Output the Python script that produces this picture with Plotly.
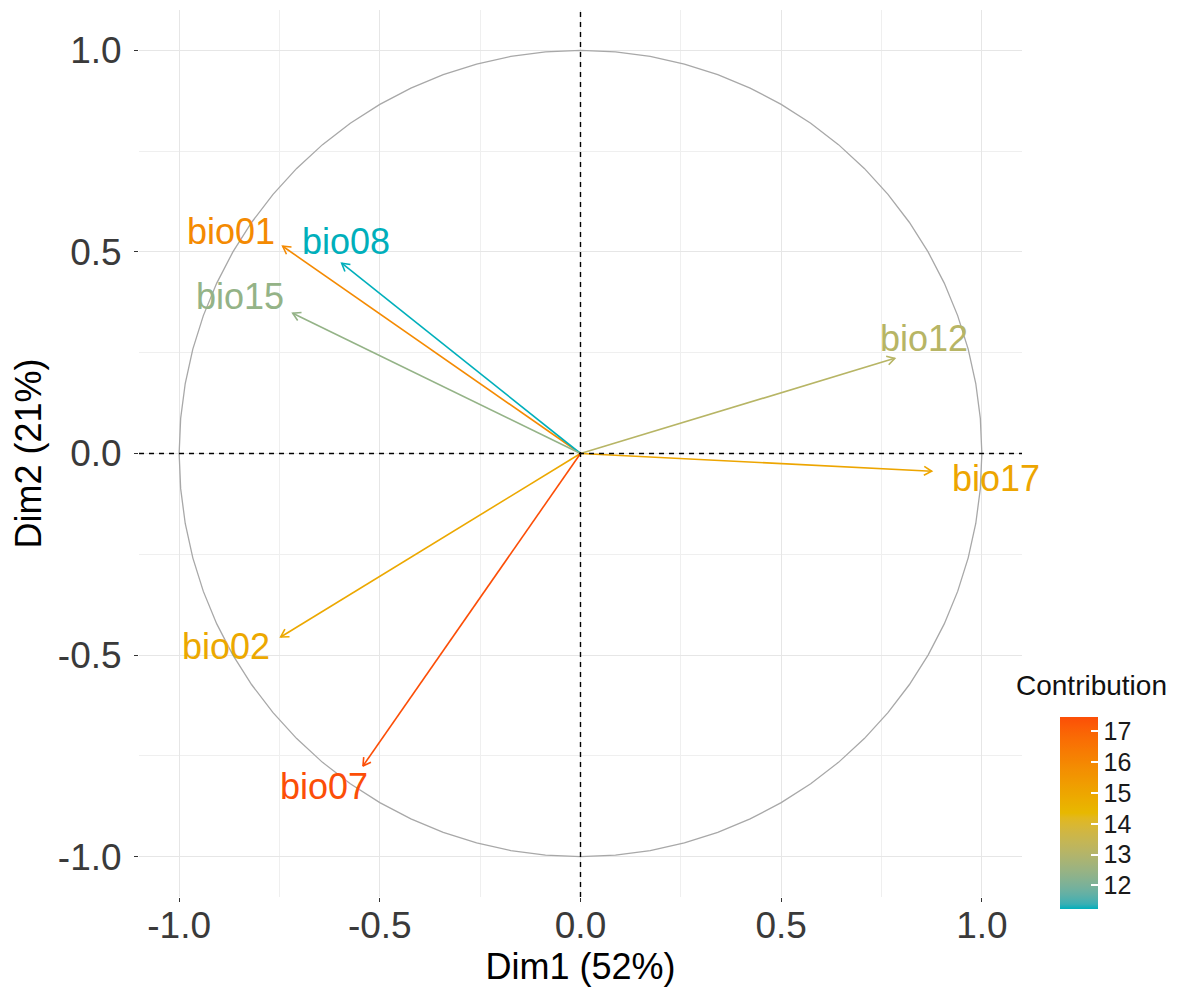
import numpy as np
import plotly.graph_objects as go

# ---- data ----
variables = ["bio01", "bio08", "bio15", "bio12", "bio17", "bio02", "bio07"]
dim1 = [-0.742, -0.595, -0.717, 0.783, 0.875, -0.747, -0.542]
dim2 = [0.514, 0.472, 0.348, 0.236, -0.044, -0.455, -0.775]
contrib = [15.9, 11.23, 12.4, 13.1, 15.0, 14.9, 17.47]
cbar_ticks = [12, 13, 14, 15, 16, 17]
axis_ticks = [-1.0, -0.5, 0.0, 0.5, 1.0]
x_title = "Dim1 (52%)"
y_title = "Dim2 (21%)"
legend_title = "Contribution"

# ---- style ----
FONT = "Liberation Sans, Arial, sans-serif"
grad_cols = ["#00AFBB", "#E7B800", "#FC4E07"]
cmin, cmax = min(contrib), max(contrib)
label_dx = [-52, 4, -53, 29, 64, -55, -39]
label_dy = [15, 22, 17, 20, -7, -10, -21]


# ---- Lab interpolation (like ggplot's gradientn) ----
M = np.array([[0.4124564, 0.3575761, 0.1804375],
              [0.2126729, 0.7151522, 0.0721750],
              [0.0193339, 0.1191920, 0.9503041]])
Minv = np.linalg.inv(M)
WHITE = np.array([0.95047, 1.0, 1.08883])


def hex2lab(h):
    rgb = np.array([int(h[i:i + 2], 16) / 255 for i in (1, 3, 5)])
    lin = np.where(rgb <= 0.04045, rgb / 12.92, ((rgb + 0.055) / 1.055) ** 2.4)
    xyz = M @ lin / WHITE
    f = np.where(xyz > 216 / 24389, np.cbrt(xyz), (24389 / 27 * xyz + 16) / 116)
    return np.array([116 * f[1] - 16, 500 * (f[0] - f[1]), 200 * (f[1] - f[2])])


def lab2hex(lab):
    L, a, b = lab
    fy = (L + 16) / 116
    fx = fy + a / 500
    fz = fy - b / 200
    f = np.array([fx, fy, fz])
    xyz = np.where(f ** 3 > 216 / 24389, f ** 3, (116 * f - 16) / (24389 / 27)) * WHITE
    lin = Minv @ xyz
    lin = np.clip(lin, 0, 1)
    rgb = np.where(lin <= 0.0031308, 12.92 * lin, 1.055 * lin ** (1 / 2.4) - 0.055)
    rgb = np.clip(np.round(rgb * 255), 0, 255).astype(int)
    return "#%02x%02x%02x" % tuple(rgb)


labs = [hex2lab(c) for c in grad_cols]


def ramp(t):
    t = min(max(t, 0.0), 1.0)
    seg = min(int(t * 2), 1)
    u = t * 2 - seg
    return lab2hex(labs[seg] * (1 - u) + labs[seg + 1] * u)


colorscale = [[t, ramp(t)] for t in np.linspace(0, 1, 41)]
cols = [ramp((c - cmin) / (cmax - cmin)) for c in contrib]

fig = go.Figure()

# correlation circle
theta = np.linspace(0, 2 * np.pi, 73)
fig.add_trace(go.Scatter(x=np.cos(theta), y=np.sin(theta), mode="lines",
                         line=dict(color="#A8A8A8", width=1.3),
                         hoverinfo="skip", showlegend=False))

fig.add_hline(y=0, line=dict(color="black", width=1.4, dash="5px,5px"))
fig.add_vline(x=0, line=dict(color="black", width=1.4, dash="5px,5px"))

head_len = 0.022
phi = np.deg2rad(30)
for name, x, y, col, dx, dy in zip(variables, dim1, dim2, cols, label_dx, label_dy):
    ang = np.arctan2(y, x)
    h1 = (x - head_len * np.cos(ang + phi), y - head_len * np.sin(ang + phi))
    h2 = (x - head_len * np.cos(ang - phi), y - head_len * np.sin(ang - phi))
    fig.add_trace(go.Scatter(
        x=[0, x, None, h1[0], x, h2[0]],
        y=[0, y, None, h1[1], y, h2[1]],
        mode="lines", line=dict(color=col, width=1.6),
        hoverinfo="skip", showlegend=False))
    fig.add_annotation(x=x, y=y, text=name, showarrow=False,
                       xshift=dx, yshift=dy, xanchor="center", yanchor="middle",
                       font=dict(family=FONT, size=36, color=col))

# colorbar carrier
fig.add_trace(go.Scatter(
    x=[None], y=[None], mode="markers",
    marker=dict(color=[cmin], cmin=cmin, cmax=cmax, colorscale=colorscale,
                showscale=True,
                colorbar=dict(x=1.043, xanchor="left", y=0.0947, yanchor="middle",
                              thickness=38, thicknessmode="pixels",
                              len=192, lenmode="pixels", outlinewidth=0,
                              tickvals=cbar_ticks, ticks="inside", ticklen=7,
                              tickcolor="white", tickwidth=1.5,
                              tickfont=dict(family=FONT, size=25, color="#1a1a1a"),
                              ypad=0, xpad=0)),
    hoverinfo="skip", showlegend=False))

fig.add_annotation(xref="paper", yref="paper", x=1.079, y=0.2379,
                   text=legend_title, showarrow=False, xanchor="center",
                   yanchor="middle", font=dict(family=FONT, size=28, color="#111"))

axis_common = dict(range=[-1.1, 1.1], tickvals=axis_ticks,
                   ticktext=[f"{v:.1f}" for v in axis_ticks],
                   showgrid=True, gridcolor="#E6E6E6", gridwidth=1.2,
                   minor=dict(dtick=0.25, tick0=0.25, showgrid=True,
                              gridcolor="#EFEFEF", gridwidth=0.9),
                   zeroline=False, showline=False,
                   ticks="outside", ticklen=4, tickcolor="#333", tickwidth=1.2,
                   tickfont=dict(family=FONT, size=37, color="#3a3a3a"),
                   fixedrange=True)

fig.update_xaxes(**axis_common, ticklabelstandoff=-8,
                 title=dict(text=x_title, standoff=2,
                            font=dict(family=FONT, size=36, color="black")))
fig.update_yaxes(**axis_common, ticklabelstandoff=5,
                 title=dict(text=y_title, standoff=12,
                            font=dict(family=FONT, size=36, color="black")))

# page body has an 8px margin, so the plot frame is offset accordingly
fig.update_layout(width=1181, height=1008,
                  margin=dict(l=131, r=167, t=2, b=119, autoexpand=False),
                  plot_bgcolor="white", paper_bgcolor="white",
                  showlegend=False)

fig.write_html("out.html")
